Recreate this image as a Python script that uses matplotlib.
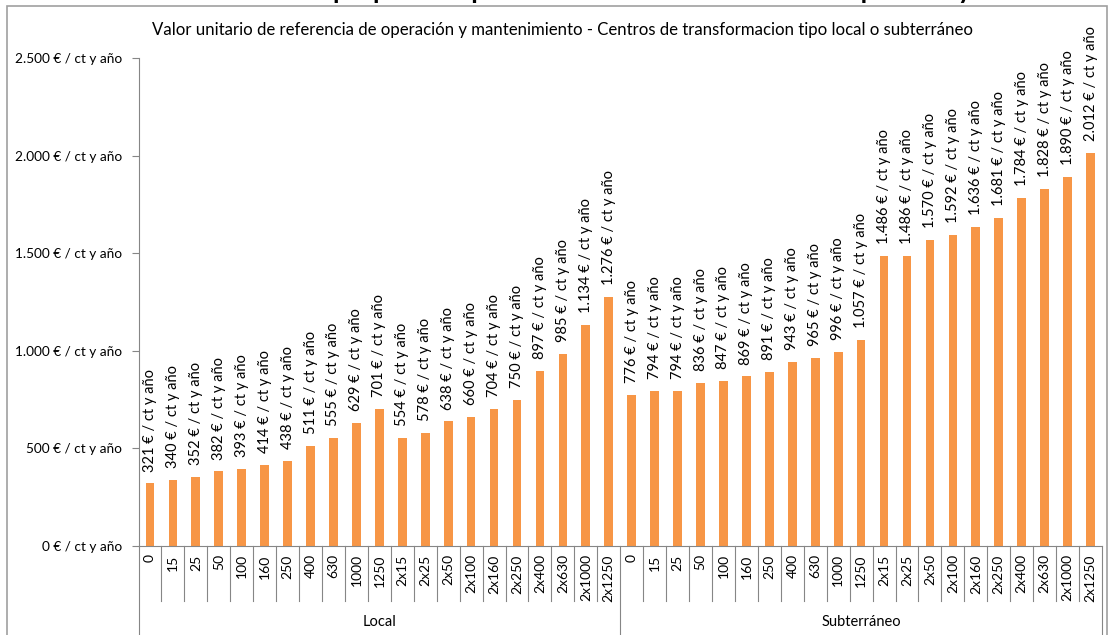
import matplotlib
matplotlib.use('Agg')
import matplotlib.pyplot as plt
from matplotlib.patches import Rectangle

plt.rcParams['font.family'] = ['Lato', 'DejaVu Sans']

# categorías (potencia del transformador, kVA) y grupos
potencias = ['0', '15', '25', '50', '100', '160', '250', '400', '630', '1000', '1250',
             '2x15', '2x25', '2x50', '2x100', '2x160', '2x250', '2x400', '2x630', '2x1000', '2x1250']
grupos = ['Local', 'Subterráneo']

# valores unitarios (€ / ct y año)
local = [321, 340, 352, 382, 393, 414, 438, 511, 555, 629, 701,
         554, 578, 638, 660, 704, 750, 897, 985, 1134, 1276]
subterraneo = [776, 794, 794, 836, 847, 869, 891, 943, 965, 996, 1057,
               1486, 1486, 1570, 1592, 1636, 1681, 1784, 1828, 1890, 2012]

yticks = [0, 500, 1000, 1500, 2000, 2500]

BAR = '#F79646'
GRID = '#868686'


def fmt(v):
    # separador de miles con punto
    return f'{v:,}'.replace(',', '.') + ' € / ct y año'


valores = local + subterraneo
etiquetas = potencias + potencias
x = list(range(len(valores)))

fig = plt.figure(figsize=(11.13, 6.35), dpi=100)
ax = fig.add_axes([138.5 / 1113, 1 - 546 / 635, (1102 - 138.5) / 1113, (546 - 58) / 635])

ax.bar(x, valores, width=0.38, color=BAR)
for xi, v in zip(x, valores):
    ax.annotate(fmt(v), (xi, v), xytext=(0, 8.5), textcoords='offset points',
                rotation=90, ha='center', va='bottom', fontsize=10.5)

ax.set_xlim(-0.5, len(valores) - 0.5)
ax.set_ylim(0, 2500)
ax.set_yticks(yticks)
ax.set_yticklabels([fmt(v) for v in yticks], fontsize=9.8)
ax.tick_params(axis='y', length=5, width=0.8, color=GRID, pad=7)
ax.set_xticks(x)
ax.set_xticklabels(etiquetas, rotation=90, fontsize=10, va='top')
ax.tick_params(axis='x', length=0, pad=6)

for s in ['top', 'right']:
    ax.spines[s].set_visible(False)
ax.spines['left'].set_color(GRID)
ax.spines['bottom'].set_color(GRID)
ax.spines['left'].set_linewidth(0.8)
ax.spines['bottom'].set_linewidth(0.8)

# líneas separadoras de categorías y grupos bajo el eje
trans = ax.get_xaxis_transform()
n = len(potencias)
for i in range(len(valores) + 1):
    if i % n == 0:
        ax.plot([i - 0.5, i - 0.5], [0, -0.19], transform=trans, color=GRID, lw=0.8, clip_on=False)
    else:
        ax.plot([i - 0.5, i - 0.5], [0, -0.112], transform=trans, color=GRID, lw=0.8, clip_on=False)
for g, nombre in enumerate(grupos):
    ax.text(g * n + (n - 1) / 2, -0.155, nombre, transform=trans, ha='center', va='center', fontsize=10.5)

# título del gráfico
fig.text(563 / 1113, 1 - 30 / 635, 'Valor unitario de referencia de operación y mantenimiento - '
         'Centros de transformacion tipo local o subterráneo', ha='center', va='center', fontsize=12.1)

# título del documento, recortado por arriba
fig.text(0.5, 1 + 1 / 635, 'Gráfico 10. Valores unitarios propuestos para centros de transformación tipo local y subterráneo',
         ha='center', va='baseline', fontsize=19, fontweight='bold')

# marco del área del gráfico
fig.patches.append(Rectangle((7 / 1113, -0.05), (1107 - 7) / 1113, 1.05 - 6 / 635, transform=fig.transFigure,
                             fill=False, edgecolor='#A0A0A0', lw=1.2))

fig.savefig('out.png', dpi=100)
